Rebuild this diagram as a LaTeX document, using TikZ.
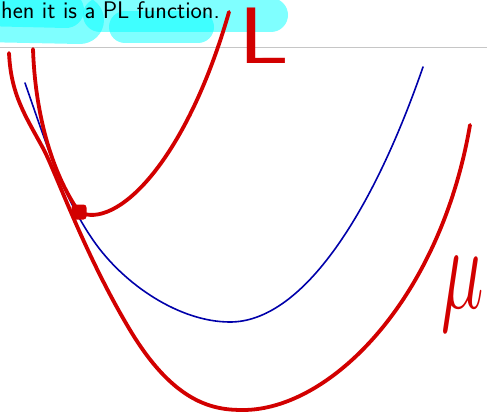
\RequirePackage{fix-cm}
\documentclass[tikz,border=0pt]{standalone}
\usepackage{amsmath}
\definecolor{hlcyan}{RGB}{0,255,255}
\definecolor{penred}{RGB}{210,0,0}
\definecolor{penblue}{RGB}{0,0,170}
\begin{document}
\begin{tikzpicture}[x=1pt, y=-1pt,
  ink/.style={draw=penred, line width=3.8pt, line cap=round, line join=round},
  lowline/.style={draw=penblue, line width=1.6pt, line cap=round},
  hl/.style={draw=hlcyan, draw opacity=0.5, line cap=round},
  lbl/.style={inner sep=0pt, text=penred}]
  \useasboundingbox (0,0) rectangle (487,413);

  % highlighter marks behind the heading
  \draw[hl, line width=48pt] (-20,18) -- (80,20);
  \draw[hl, line width=36pt] (-20,8) -- (66,10);
  \draw[hl, line width=34pt] (100,15) -- (271,15);
  \draw[hl, line width=32pt] (125,27) -- (198,27);

  \draw[gray!45, line width=1pt] (0,47) -- (487,47);
  \node[anchor=base west, inner sep=0pt, font=\sffamily\fontsize{24}{28}\selectfont] (title) at (1,18) {hen it is a PL function.};

  % lower function
  \draw[lowline] (25,83) .. controls (45,140) and (62,195) .. (93,240)
    .. controls (124,285) and (180,322) .. (230,322)
    .. controls (300,322) and (370,220) .. (423,67);

  % mu
  \draw[ink] (9,53) .. controls (11,95) and (25,115) .. (44,150)
    .. controls (58,178) and (85,255) .. (130,330)
    .. controls (175,405) and (215,410) .. (243,410)
    .. controls (330,410) and (440,300) .. (470,125);

  % L with its kink
  \node[fill=penred, minimum size=15pt, inner sep=0pt, rounded corners=3pt] (kink) at (79,212) {};
  \draw[ink] (33,49) .. controls (35,110) and (50,170) .. (kink.center);
  \draw[ink] (kink.center) .. controls (115,230) and (185,165) .. (229,12);

  \node[lbl, anchor=south west, font=\sffamily\fontsize{80}{80}\selectfont] (lblL) at (238,64) {\scalebox{1.25}[1]{L}};
  \node[lbl, anchor=north west, font=\fontsize{120}{120}\selectfont] (lblmu) at (441,257) {\scalebox{0.6}[1]{$\mu$}};
\end{tikzpicture}
\end{document}
